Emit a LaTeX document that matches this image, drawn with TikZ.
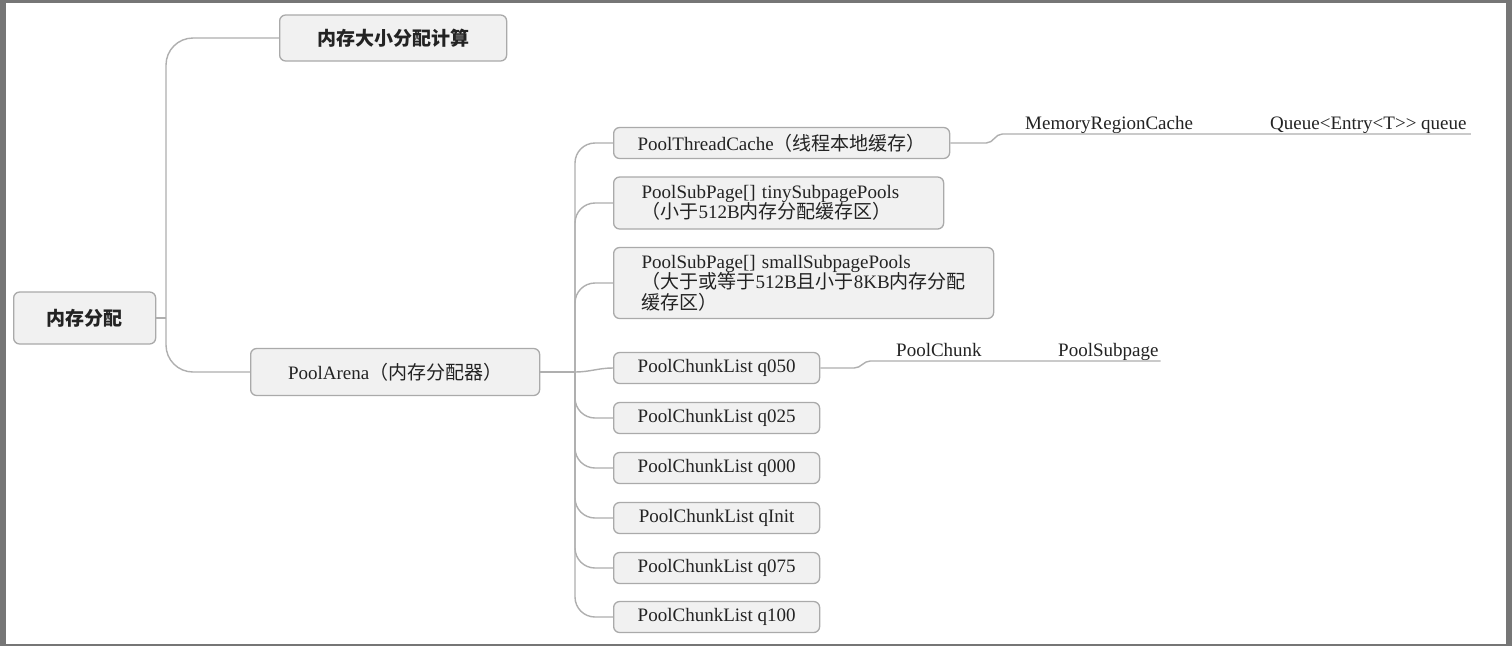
\documentclass[tikz,border=0pt]{standalone}
\usepackage{fontspec}
\setmainfont{Liberation Serif}
\newfontfamily\cjk{Noto Sans CJK SC}
\newcommand\zh[1]{{\cjk #1}}
\usetikzlibrary{positioning}
\definecolor{framegray}{RGB}{118,118,118}
\definecolor{boxfill}{RGB}{241,241,241}
\definecolor{boxline}{RGB}{170,170,170}
\definecolor{linegray}{RGB}{175,175,175}
\definecolor{txt}{RGB}{35,35,35}

\begin{document}
\begin{tikzpicture}[x=1pt,y=-1pt,
	font=\fontsize{19}{20.5}\selectfont,
	box/.style={draw=boxline, fill=boxfill, line width=1.3pt, rounded corners=6pt, anchor=west, text=txt, inner sep=0pt},
	multibox/.style={box, align=left, inner xsep=28pt},
	conn/.style={draw=linegray, line width=1.4pt},
	leaf/.style={anchor=south west, inner sep=0pt, text depth=4.5pt, text=txt}]
	% Rahmen
	\fill[framegray] (0,0) rectangle (1512,646);
	\fill[white] (6,3) rectangle (1506,644);

	% Wurzel und erste Ebene
	\node[box, minimum width=142pt, minimum height=52pt] (root) at (13,318) {\zh{\bfseries 内存分配}};
	\node[box, minimum width=227pt, minimum height=46pt] (calc) at (279,38) {\zh{\bfseries 内存大小分配计算}};
	\node[box, minimum width=289pt, minimum height=47pt] (arena) at (250,372) {PoolArena\zh{（内存分配器）}};

	% PoolArena Kinder
	\node[box, minimum width=336pt, minimum height=31pt] (ptc) at (613,143) {PoolThreadCache\zh{（线程本地缓存）}};
	\node[multibox, text width=274pt, minimum height=52pt] (tiny) at (613,203)
		{PoolSubPage[] tinySubpagePools\\\zh{（小于}512B\zh{内存分配缓存区）}};
	\node[multibox, text width=324pt, minimum height=71pt] (small) at (613,283)
		{PoolSubPage[] smallSubpagePools\\\zh{（大于或等于}512B\zh{且小于}8KB\zh{内存分配}\\\zh{缓存区）}};
	\foreach \nm/\yy in {q050/368,q025/418,q000/468,qInit/518,q075/568,q100/617}
		\node[box, minimum width=206pt, minimum height=31pt] (\nm) at (613,\yy) {PoolChunkList \nm};

	% Blaetter
	\node[leaf] (mrc) at (1025,134) {MemoryRegionCache};
	\node[leaf] (queue) at (1270,134) {Queue<Entry<T>{}> queue};
	\node[leaf] (chunk) at (896,361) {PoolChunk};
	\node[leaf] (subpage) at (1058,361) {PoolSubpage};

	% Verbindungen
	\coordinate (rhub) at (166,318);
	\coordinate (ahub) at (575,372);
	\draw[conn] (root.east) -- (rhub);
	\draw[conn, rounded corners=27pt] (rhub) |- (calc.west);
	\draw[conn, rounded corners=27pt] (rhub) |- (arena.west);
	\draw[conn] (arena.east) -- (ahub);
	\foreach \c in {ptc,tiny,small,q025,q000,qInit,q075,q100}
		\draw[conn, rounded corners=20pt] (ahub) |- (\c.west);
	\draw[conn] (ahub) to[out=0,in=180] (q050.west);
	\draw[conn] (ptc.east) -- ++(36,0) to[out=0,in=180] ++(16,-9) -- ([xshift=4pt]queue.south east);
	\draw[conn] (q050.east) -- ++(34,0) to[out=0,in=180] ++(16,-7) -- ([xshift=2pt]subpage.south east);
\end{tikzpicture}
\end{document}
